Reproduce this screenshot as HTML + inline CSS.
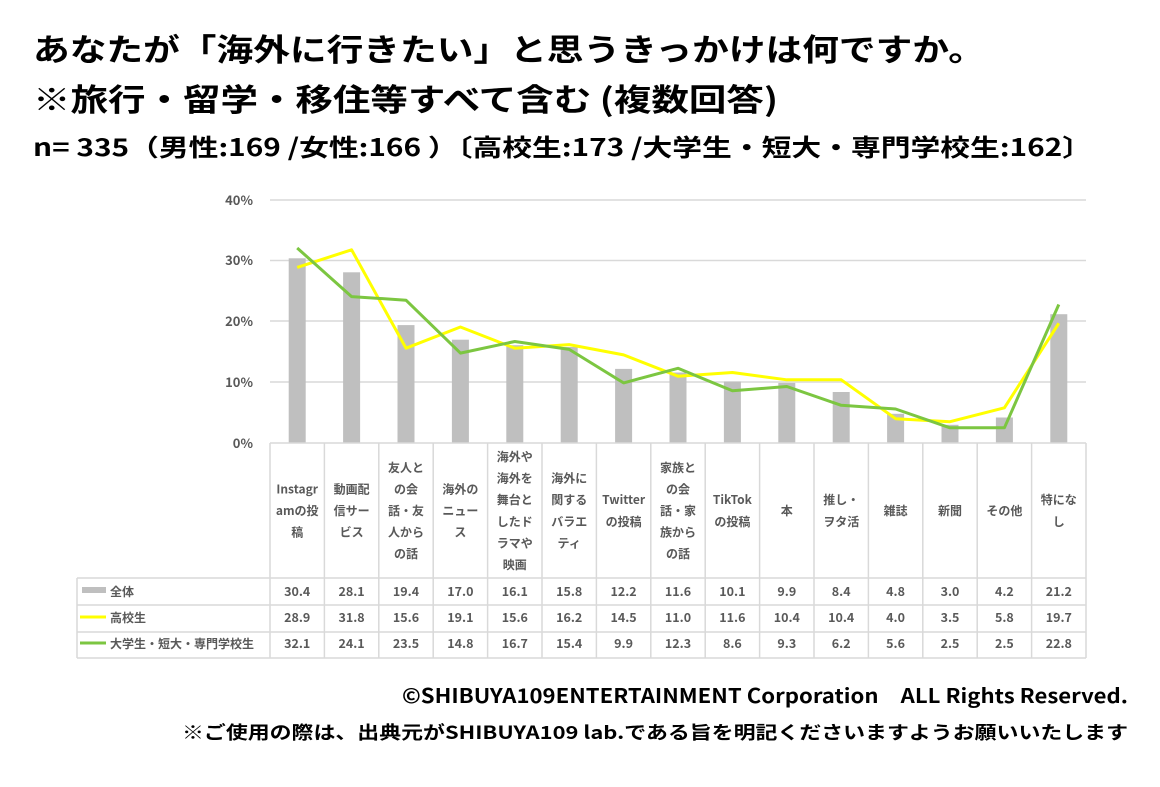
<!DOCTYPE html>
<html><head><meta charset="utf-8"><style>
html,body{margin:0;padding:0;background:#fff;}
svg{display:block;font-family:"Noto Sans CJK JP","Liberation Sans",sans-serif;}
</style></head><body>
<svg width="1160" height="787" viewBox="0 0 1160 787" xmlns="http://www.w3.org/2000/svg">
<g font-weight="bold" fill="#000">
<text x="33" y="61" font-size="31" textLength="952" lengthAdjust="spacingAndGlyphs">あなたが「海外に行きたい」と思うきっかけは何ですか。</text>
<text x="33" y="111" font-size="31" textLength="745" lengthAdjust="spacingAndGlyphs">※旅行・留学・移住等すべて含む (複数回答)</text>
<text x="33" y="156" font-size="24" textLength="1059" lengthAdjust="spacingAndGlyphs">n= 335（男性:169 /女性:166 ）〔高校生:173 /大学生・短大・専門学校生:162〕</text>
<text x="1128" y="703" font-size="20" text-anchor="end" textLength="726" lengthAdjust="spacingAndGlyphs">©SHIBUYA109ENTERTAINMENT Corporation　ALL Rights Reserved.</text>
<text x="1128" y="739" font-size="18" text-anchor="end" textLength="946" lengthAdjust="spacingAndGlyphs">※ご使用の際は、出典元がSHIBUYA109 lab.である旨を明記くださいますようお願いいたします</text>
</g>
<g stroke="#d9d9d9" stroke-width="1.5">
<line x1="270" x2="1086" y1="200" y2="200"/><line x1="270" x2="1086" y1="260.5" y2="260.5"/>
<line x1="270" x2="1086" y1="321" y2="321"/><line x1="270" x2="1086" y1="382" y2="382"/>
</g>
<g font-size="13" font-weight="bold" fill="#595959" text-anchor="end">
<text x="253" y="205">40%</text><text x="253" y="265">30%</text><text x="253" y="326">20%</text><text x="253" y="387">10%</text><text x="253" y="448">0%</text>
</g>
<g fill="#bfbfbf">
<rect x="288.7" y="258.3" width="17" height="184.7"/>
<rect x="343.1" y="272.3" width="17" height="170.7"/>
<rect x="397.5" y="325.1" width="17" height="117.9"/>
<rect x="451.9" y="339.7" width="17" height="103.3"/>
<rect x="506.3" y="345.2" width="17" height="97.8"/>
<rect x="560.7" y="347.0" width="17" height="96.0"/>
<rect x="615.1" y="368.9" width="17" height="74.1"/>
<rect x="669.5" y="372.5" width="17" height="70.5"/>
<rect x="723.9" y="381.6" width="17" height="61.4"/>
<rect x="778.3" y="382.9" width="17" height="60.1"/>
<rect x="832.7" y="392.0" width="17" height="51.0"/>
<rect x="887.1" y="413.8" width="17" height="29.2"/>
<rect x="941.5" y="424.8" width="17" height="18.2"/>
<rect x="995.9" y="417.5" width="17" height="25.5"/>
<rect x="1050.3" y="314.2" width="17" height="128.8"/>
</g>
<polyline fill="none" stroke="#ffff00" stroke-width="3" stroke-linejoin="round" points="297.2,267.4 351.6,249.8 406,348.2 460.4,327 514.8,348.2 569.2,344.6 623.6,354.9 678,376.2 732.4,372.5 786.8,379.8 841.2,379.8 895.6,418.7 950,421.7 1004.4,407.8 1058.8,323.3"/>
<polyline fill="none" stroke="#7cc641" stroke-width="3" stroke-linejoin="round" points="297.2,248 351.6,296.6 406,300.2 460.4,353.1 514.8,341.5 569.2,349.4 623.6,382.9 678,368.3 732.4,390.8 786.8,386.5 841.2,405.3 895.6,409 950,427.8 1004.4,427.8 1058.8,304.5"/>
<g stroke="#d9d9d9" stroke-width="1.5">
<line x1="270" x2="1086" y1="443" y2="443"/>
<line x1="77" x2="1086" y1="578" y2="578"/><line x1="77" x2="1086" y1="605" y2="605"/>
<line x1="77" x2="1086" y1="632" y2="632"/><line x1="77" x2="1086" y1="658" y2="658"/>
<line x1="77" x2="77" y1="578" y2="658"/>
<line x1="270" x2="270" y1="443" y2="658"/><line x1="324.4" x2="324.4" y1="443" y2="658"/>
<line x1="378.8" x2="378.8" y1="443" y2="658"/><line x1="433.2" x2="433.2" y1="443" y2="658"/>
<line x1="487.6" x2="487.6" y1="443" y2="658"/><line x1="542" x2="542" y1="443" y2="658"/>
<line x1="596.4" x2="596.4" y1="443" y2="658"/><line x1="650.8" x2="650.8" y1="443" y2="658"/>
<line x1="705.2" x2="705.2" y1="443" y2="658"/><line x1="759.6" x2="759.6" y1="443" y2="658"/>
<line x1="814" x2="814" y1="443" y2="658"/><line x1="868.4" x2="868.4" y1="443" y2="658"/>
<line x1="922.8" x2="922.8" y1="443" y2="658"/><line x1="977.2" x2="977.2" y1="443" y2="658"/>
<line x1="1031.6" x2="1031.6" y1="443" y2="658"/><line x1="1086" x2="1086" y1="443" y2="658"/>
</g>
<g font-size="12" font-weight="bold" fill="#595959" text-anchor="middle">
<text x="297.2" y="493.4">Instagr</text><text x="297.2" y="515">amの投</text><text x="297.2" y="536.6">稿</text>
<text x="351.6" y="493.4">動画配</text><text x="351.6" y="515">信サー</text><text x="351.6" y="536.6">ビス</text>
<text x="406" y="471.8">友人と</text><text x="406" y="493.4">の会</text><text x="406" y="515">話・友</text><text x="406" y="536.6">人から</text><text x="406" y="558.2">の話</text>
<text x="460.4" y="493.4">海外の</text><text x="460.4" y="515">ニュー</text><text x="460.4" y="536.6">ス</text>
<text x="514.8" y="461">海外や</text><text x="514.8" y="482.6">海外を</text><text x="514.8" y="504.2">舞台と</text><text x="514.8" y="525.8">したド</text><text x="514.8" y="547.4">ラマや</text><text x="514.8" y="569">映画</text>
<text x="569.2" y="482.6">海外に</text><text x="569.2" y="504.2">関する</text><text x="569.2" y="525.8">バラエ</text><text x="569.2" y="547.4">ティ</text>
<text x="623.6" y="504.2">Twitter</text><text x="623.6" y="525.8">の投稿</text>
<text x="678" y="471.8">家族と</text><text x="678" y="493.4">の会</text><text x="678" y="515">話・家</text><text x="678" y="536.6">族から</text><text x="678" y="558.2">の話</text>
<text x="732.4" y="504.2">TikTok</text><text x="732.4" y="525.8">の投稿</text>
<text x="786.8" y="515">本</text>
<text x="841.2" y="504.2">推し・</text><text x="841.2" y="525.8">ヲタ活</text>
<text x="895.6" y="515">雑誌</text>
<text x="950" y="515">新聞</text>
<text x="1004.4" y="515">その他</text>
<text x="1058.8" y="504.2">特にな</text><text x="1058.8" y="525.8">し</text>
</g>
<g font-size="12.5" font-weight="bold" fill="#595959" text-anchor="middle">
<text x="297.2" y="596">30.4</text><text x="351.6" y="596">28.1</text><text x="406" y="596">19.4</text><text x="460.4" y="596">17.0</text><text x="514.8" y="596">16.1</text><text x="569.2" y="596">15.8</text><text x="623.6" y="596">12.2</text><text x="678" y="596">11.6</text><text x="732.4" y="596">10.1</text><text x="786.8" y="596">9.9</text><text x="841.2" y="596">8.4</text><text x="895.6" y="596">4.8</text><text x="950" y="596">3.0</text><text x="1004.4" y="596">4.2</text><text x="1058.8" y="596">21.2</text>
<text x="297.2" y="622">28.9</text><text x="351.6" y="622">31.8</text><text x="406" y="622">15.6</text><text x="460.4" y="622">19.1</text><text x="514.8" y="622">15.6</text><text x="569.2" y="622">16.2</text><text x="623.6" y="622">14.5</text><text x="678" y="622">11.0</text><text x="732.4" y="622">11.6</text><text x="786.8" y="622">10.4</text><text x="841.2" y="622">10.4</text><text x="895.6" y="622">4.0</text><text x="950" y="622">3.5</text><text x="1004.4" y="622">5.8</text><text x="1058.8" y="622">19.7</text>
<text x="297.2" y="648">32.1</text><text x="351.6" y="648">24.1</text><text x="406" y="648">23.5</text><text x="460.4" y="648">14.8</text><text x="514.8" y="648">16.7</text><text x="569.2" y="648">15.4</text><text x="623.6" y="648">9.9</text><text x="678" y="648">12.3</text><text x="732.4" y="648">8.6</text><text x="786.8" y="648">9.3</text><text x="841.2" y="648">6.2</text><text x="895.6" y="648">5.6</text><text x="950" y="648">2.5</text><text x="1004.4" y="648">2.5</text><text x="1058.8" y="648">22.8</text>
</g>
<g font-size="12" font-weight="bold" fill="#595959">
<rect x="82" y="587" width="24" height="6" fill="#bfbfbf"/><text x="110" y="596">全体</text>
<line x1="80" x2="106" y1="617" y2="617" stroke="#ffff00" stroke-width="3"/><text x="110" y="622">高校生</text>
<line x1="80" x2="106" y1="643" y2="643" stroke="#7cc641" stroke-width="3"/><text x="110" y="648">大学生・短大・専門学校生</text>
</g>
</svg>
</body></html>
